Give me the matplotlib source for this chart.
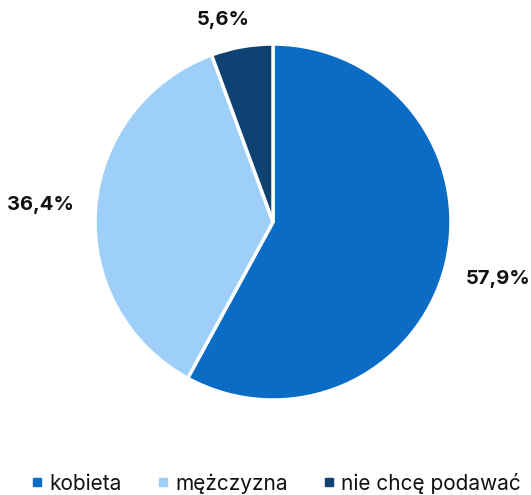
import numpy as np
import matplotlib
matplotlib.use("Agg")
import matplotlib.pyplot as plt
from matplotlib.lines import Line2D

categories = ["kobieta", "mężczyzna", "nie chcę podawać"]
values = [57.9, 36.4, 5.6]
labels = ["57,9%", "36,4%", "5,6%"]
colors = ["#0a6cc4", "#9dcff8", "#0e4273"]
label_dist = [1.30, 1.32, 1.15]
label_dx = [1, 2, -14]

plt.rcParams['font.family'] = ['Inter', 'DejaVu Sans']

fig = plt.figure(figsize=(5.31, 4.95), dpi=100)
ax = fig.add_axes([0, 0, 1, 1])
ax.axis('off')

cx, cy, r = 273, 273, 178
wedges, _ = ax.pie(values, colors=colors, startangle=90, counterclock=False,
                   center=(cx, cy), radius=r,
                   wedgeprops=dict(edgecolor='white', linewidth=2.5))
ax.set_xlim(0, 531)
ax.set_ylim(0, 495)
ax.set_aspect('equal')

for w, lab, d, dx in zip(wedges, labels, label_dist, label_dx):
    ang = np.deg2rad((w.theta1 + w.theta2) / 2)
    ax.text(cx + d * r * np.cos(ang) + dx, cy + d * r * np.sin(ang), lab,
            ha='center', va='center', fontsize=14.5, fontweight='bold',
            color='#111111')

handles = [Line2D([], [], marker='s', linestyle='none', markersize=6,
                  markerfacecolor=c, markeredgecolor=c) for c in colors]
fig.legend(handles, categories, loc='center', bbox_to_anchor=(0.5207, 12 / 495),
           ncol=3, frameon=False, fontsize=15, handlelength=0.5, handletextpad=0.35,
           columnspacing=1.7, labelcolor='#111111')

fig.savefig("out.png", dpi=100)
